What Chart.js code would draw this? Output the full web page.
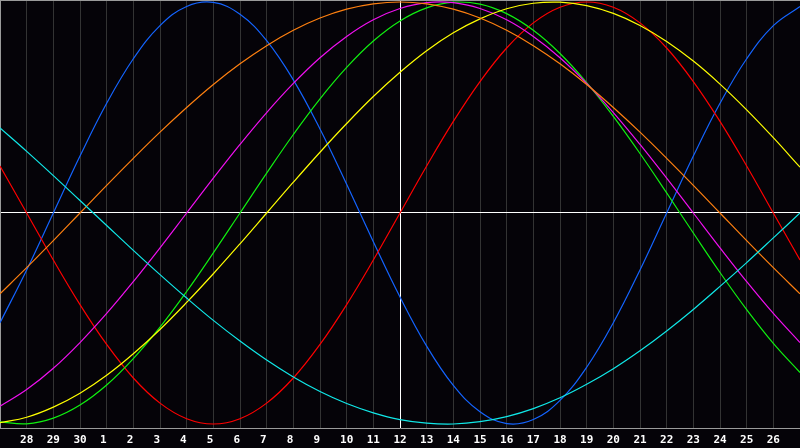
<!DOCTYPE html>
<html><head><meta charset="utf-8">
<script src="https://cdn.jsdelivr.net/npm/chart.js@4.4.1/dist/chart.umd.min.js"></script>
<style>html,body{margin:0;padding:0;background:#050308;}#c{display:block;}</style>
</head><body>
<canvas id="c" width="800" height="448"></canvas>
<script>
const dayLabels = ['27','28','29','30','1','2','3','4','5','6','7','8','9','10','11','12','13','14','15','16','17','18','19','20','21','22','23','24','25','26','27'];

const physical = [-0.520,-0.270,0,0.270,0.520,0.731,0.888,0.979,0.998,0.942,0.817,0.631,0.398,0.136,-0.136,-0.398,-0.631,-0.817,-0.942,-0.998,-0.979,-0.888,-0.731,-0.520,-0.270,0,0.270,0.520,0.731,0.888,0.979];
const emotional = [0.223,0,-0.223,-0.434,-0.623,-0.782,-0.901,-0.975,-1,-0.975,-0.901,-0.782,-0.623,-0.434,-0.223,0,0.223,0.434,0.623,0.782,0.901,0.975,1,0.975,0.901,0.782,0.623,0.434,0.223,0,-0.223];
const intellectual = [-0.990,-0.999,-0.972,-0.910,-0.815,-0.690,-0.541,-0.372,-0.189,0,0.189,0.372,0.541,0.690,0.815,0.910,0.972,0.999,0.990,0.945,0.866,0.756,0.618,0.458,0.282,0.095,-0.095,-0.282,-0.458,-0.618,-0.756];
const intuitive = [-0.916,-0.837,-0.736,-0.614,-0.476,-0.325,-0.165,0,0.165,0.325,0.476,0.614,0.736,0.837,0.916,0.969,0.997,0.997,0.969,0.916,0.837,0.736,0.614,0.476,0.325,0.165,0,-0.165,-0.325,-0.476,-0.614];
const aesthetic = [-0.994,-0.968,-0.920,-0.854,-0.769,-0.667,-0.552,-0.424,-0.288,-0.146,0,0.146,0.288,0.424,0.552,0.667,0.769,0.854,0.920,0.968,0.994,0.999,0.983,0.946,0.889,0.813,0.720,0.611,0.489,0.357,0.217];
const awareness = [-0.383,-0.259,-0.131,0,0.131,0.259,0.383,0.5,0.609,0.707,0.793,0.866,0.924,0.966,0.991,1,0.991,0.966,0.924,0.866,0.793,0.707,0.609,0.5,0.383,0.259,0.131,0,-0.131,-0.259,-0.383];
const spiritual = [0.403,0.292,0.177,0.059,-0.059,-0.177,-0.292,-0.403,-0.509,-0.607,-0.697,-0.777,-0.846,-0.903,-0.947,-0.979,-0.996,-1.000,-0.989,-0.965,-0.927,-0.876,-0.812,-0.738,-0.653,-0.559,-0.457,-0.348,-0.235,-0.118,0];

const BG = '#050308';

const frame = {
  id: 'frame',
  beforeDraw(chart) {
    const c = chart.ctx;
    c.save();
    c.fillStyle = BG;
    c.fillRect(0, 0, chart.width, chart.height);
    c.restore();
  },
  beforeDatasetsDraw(chart) {
    const c = chart.ctx, a = chart.chartArea;
    c.save();
    c.strokeStyle = '#9a9a9a';
    c.lineWidth = 1;
    c.beginPath();
    c.moveTo(a.left, a.top + 0.5);
    c.lineTo(a.right, a.top + 0.5);
    c.moveTo(a.left + 0.5, a.top);
    c.lineTo(a.left + 0.5, a.bottom);
    c.stroke();
    c.restore();
  }
};

function ds(data, color) {
  return { data, borderColor: color, borderWidth: 1.2, pointRadius: 0, fill: false, tension: 0.4 };
}

new Chart(document.getElementById('c'), {
  type: 'line',
  data: {
    labels: dayLabels,
    datasets: [
      ds(spiritual, '#10e8e8'),
      ds(awareness, '#ff8010'),
      ds(aesthetic, '#ffff00'),
      ds(intuitive, '#f010f0'),
      ds(intellectual, '#10f010'),
      ds(emotional, '#ff0000'),
      ds(physical, '#1464ff')
    ]
  },
  options: {
    responsive: false,
    animation: false,
    events: [],
    layout: { padding: 0, autoPadding: false },
    plugins: { legend: { display: false }, tooltip: { enabled: false } },
    scales: {
      x: {
        type: 'category',
        offset: false,
        grid: {
          color: c => c.index === 15 ? '#ffffff' : (c.index === 0 ? '#9a9a9a' : '#333333'),
          lineWidth: 1,
          drawTicks: true,
          tickLength: 6,
          tickColor: 'rgba(0,0,0,0)'
        },
        border: { display: true, color: '#9a9a9a', width: 1 },
        ticks: {
          autoSkip: false, maxRotation: 0, minRotation: 0, padding: 0,
          color: '#ffffff',
          font: { family: 'DejaVu Sans Mono', size: 11, weight: 'bold' },
          callback(v, i) {
            if (i === 0 || i === dayLabels.length - 1) return '';
            const s = this.getLabelForValue(v);
            return s.length === 1 ? s + ' ' : s;
          }
        },
        afterFit(s) { s.height = 20; }
      },
      y: {
        type: 'linear', min: -1.019, max: 1.0095,
        ticks: { display: false, stepSize: 0.5 },
        grid: { color: c => c.tick && c.tick.value === 0 ? '#ffffff' : 'rgba(0,0,0,0)', drawTicks: false },
        border: { display: false },
        afterFit(s) { s.width = 0; }
      }
    }
  },
  plugins: [frame]
});
</script>
</body></html>
